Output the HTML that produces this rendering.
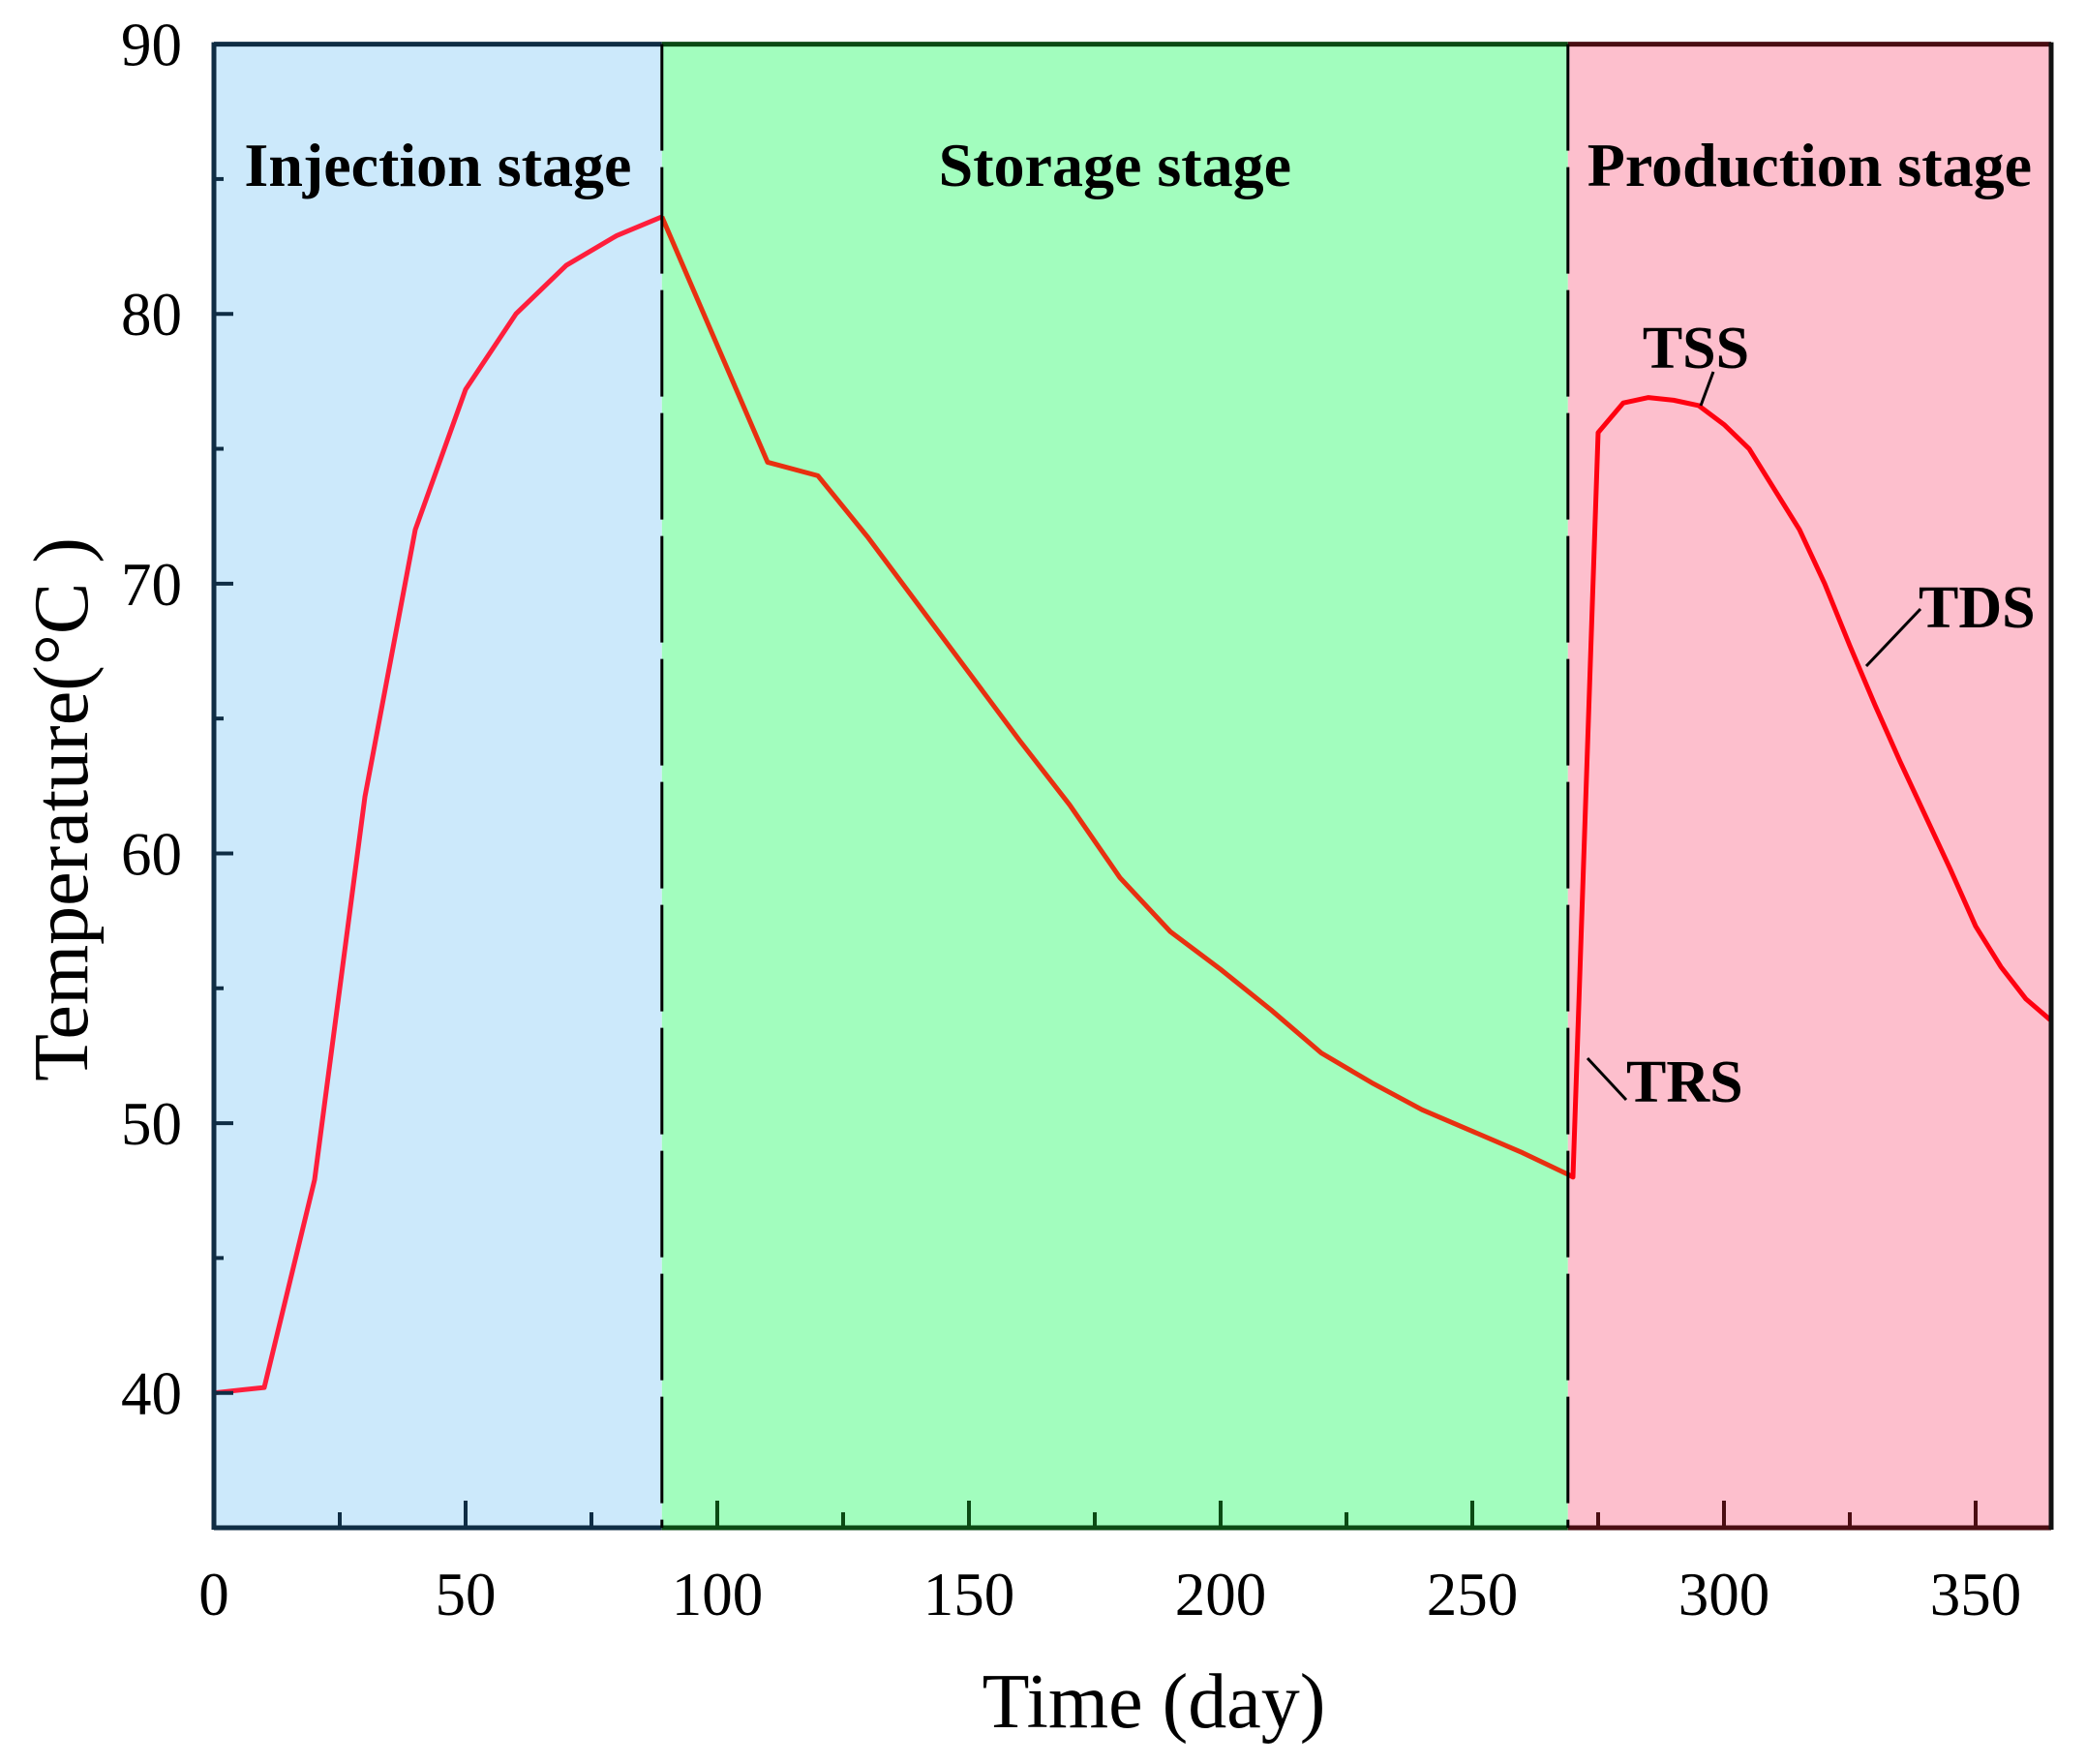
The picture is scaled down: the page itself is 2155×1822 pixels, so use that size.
<!DOCTYPE html>
<html><head><meta charset="utf-8"><style>
html,body{margin:0;padding:0;background:#fff;}
svg{display:block;font-family:"Liberation Serif",serif;}
</style></head><body>
<svg id="chart" width="2155" height="1822" viewBox="0 0 2155 1822" xmlns="http://www.w3.org/2000/svg">
<g id="bands"></g><g id="grid"></g><g id="series"></g><g id="annot"></g><g id="axes"></g>
</svg>
<script>
const injDays=[0,10,20,30,40,50,60,70,80,89];
const injTemp=[40,40.2,47.9,62.1,72,77.2,80,81.8,82.9,83.6];
const stoDays=[89,110,120,130,140,150,160,170,180,190,200,210,220,230,240,250,260,269];
const stoTemp=[83.6,74.5,74,71.7,69.2,66.7,64.2,61.8,59.1,57.1,55.7,54.2,52.6,51.5,50.5,49.7,48.9,48.1];
const proDays=[269,270,275,280,285,290,295,300,305,310,315,320,325,330,335,340,345,350,355,360,365];
const proTemp=[48.1,48,75.6,76.7,76.9,76.8,76.6,75.9,75,73.5,72,70,67.7,65.5,63.4,61.4,59.4,57.3,55.8,54.6,53.8];
const stageBounds=[0,89,269,365];
const stageNames=["Injection stage","Storage stage","Production stage"];
const xTicks=[0,50,100,150,200,250,300,350];
const yTicks=[40,50,60,70,80,90];

const L=221,R=2119,T=45.6,B=1578,XMIN=0,XMAX=365,YMIN=35,YMAX=90;
const X=d=>L+(d-XMIN)/(XMAX-XMIN)*(R-L);
const Y=v=>B-(v-YMIN)/(YMAX-YMIN)*(B-T);
const NS="http://www.w3.org/2000/svg";
function mk(tag,attrs,parent,text){const e=document.createElementNS(NS,tag);for(const k in attrs)e.setAttribute(k,attrs[k]);if(text!==undefined)e.textContent=text;parent.appendChild(e);return e;}
const bands=document.getElementById('bands'),series=document.getElementById('series'),annot=document.getElementById('annot'),axes=document.getElementById('axes');
const fills=["#cce9fb","#a2fdbe","#fdbfcd"];
const frameCols=["#0f2d44","#0b4a14","#4a0d12"];
for(let i=0;i<3;i++){
  const r=mk('rect',{x:X(stageBounds[i]),y:T,width:X(stageBounds[i+1])-X(stageBounds[i]),height:B-T,fill:fills[i]},bands);
  
  
  const t=mk('text',{x:(X(stageBounds[i])+X(stageBounds[i+1]))/2,y:192,'text-anchor':'middle','font-size':64,'font-weight':'bold',fill:'#000'},bands,stageNames[i]);
  
  
}
for(let i=0;i<3;i++){
  const x1=X(stageBounds[i]),x2=X(stageBounds[i+1]);
  mk('line',{x1:x1,y1:T,x2:x2,y2:T,stroke:frameCols[i],'stroke-width':5},axes);
  mk('line',{x1:x1,y1:B,x2:x2,y2:B,stroke:frameCols[i],'stroke-width':5},axes);
}
mk('line',{x1:L,y1:T-2,x2:L,y2:B+2,stroke:frameCols[0],'stroke-width':5},axes);
mk('line',{x1:R,y1:T-2,x2:R,y2:B+2,stroke:'#111','stroke-width':5},axes);
for(const b of [stageBounds[1],stageBounds[2]]){
  const d=mk('line',{x1:X(b),y1:T,x2:X(b),y2:B,stroke:'#000','stroke-width':3,'stroke-dasharray':'110 17'},axes);
  
  
}
for(let v=0;v<=365;v+=25){
  const maj=v%50===0;const col=v<89?frameCols[0]:(v<269?frameCols[1]:frameCols[2]);
  mk('line',{x1:X(v),y1:B,x2:X(v),y2:B-(maj?28:16),stroke:col,'stroke-width':4},axes);
}
for(let v=35;v<=90;v+=5){
  const maj=v%10===0;
  mk('line',{x1:L,y1:Y(v),x2:L+(maj?20:10),y2:Y(v),stroke:frameCols[0],'stroke-width':4},axes);
}
xTicks.forEach(v=>{const t=mk('text',{x:X(v),y:1668,'text-anchor':'middle','font-size':63},axes,String(v));
  
  });
yTicks.forEach(v=>{const t=mk('text',{x:188,y:Y(v)+22,'text-anchor':'end','font-size':63},axes,String(v));
  
  });
const xt=mk('text',{x:1192,y:1784,'text-anchor':'middle','font-size':80},axes,'Time (day)');


const yt=mk('text',{x:0,y:0,'text-anchor':'middle','font-size':80,transform:'translate(90,836) rotate(-90)'},axes,'Temperature(°C )');


function line(days,temps,col,name){
  const p=mk('polyline',{points:days.map((d,i)=>X(d)+','+Y(temps[i])).join(' '),fill:'none',stroke:col,'stroke-width':5,'stroke-linejoin':'round'},series);
  
  
}
line(injDays,injTemp,'#ff1e3c','injection-line');
line(stoDays,stoTemp,'#e83010','storage-line');
line(proDays,proTemp,'#ff0010','production-line');
function ann(label,tx,ty,lx1,ly1,lx2,ly2,anchor,name){
  mk('line',{x1:lx1,y1:ly1,x2:lx2,y2:ly2,stroke:'#000','stroke-width':3},annot);
  const t=mk('text',{x:tx,y:ty,'text-anchor':anchor,'font-size':62,'font-weight':'bold'},annot,label);
  
  
}
ann('TSS',1752,380,1770,384,1757,419,'middle','tss-label');
ann('TDS',1982,648,1984,629,1928,688,'start','tds-label');
ann('TRS',1680,1138,1680,1136,1640,1093,'start','trs-label');
</script>
</body></html>
